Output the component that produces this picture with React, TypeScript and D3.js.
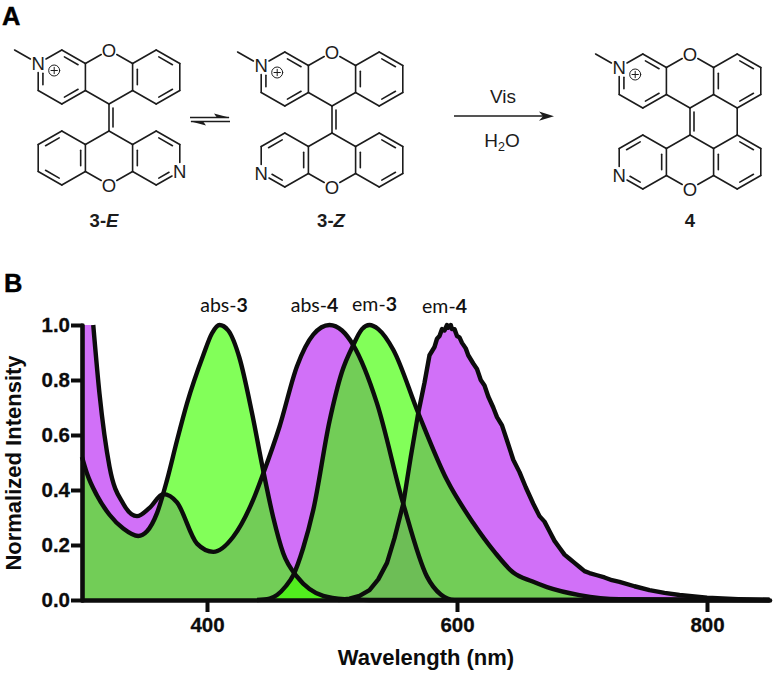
import React, { useRef, useEffect } from 'react';
import * as d3 from 'd3';

// Spectra (wavelength in nm, normalized intensity)
const abs3Wave = [300, 304, 312, 322, 333, 345, 352, 360, 368, 376, 384, 397, 404, 410, 417, 426, 436, 445, 453, 461, 472, 482, 493, 510, 530, 850];
const abs3Value = [0.52, 0.46, 0.38, 0.31, 0.26, 0.233, 0.25, 0.316, 0.436, 0.58, 0.715, 0.89, 0.97, 1.0, 0.98, 0.88, 0.68, 0.47, 0.3, 0.17, 0.085, 0.04, 0.015, 0.003, 0, 0];

const abs4Wave = [300, 309, 314, 322, 333, 344, 354, 365, 376, 392, 405, 421, 437, 445, 458, 472, 485, 498, 508, 517, 536, 557, 576, 587, 598, 850];
const abs4Value = [1.0, 1.0, 0.75, 0.485, 0.35, 0.305, 0.335, 0.385, 0.355, 0.205, 0.175, 0.23, 0.365, 0.46, 0.63, 0.85, 0.965, 1.0, 0.98, 0.927, 0.715, 0.35, 0.085, 0.02, 0, 0];

const em3Wave = [440, 450, 456, 463, 469, 477, 485, 498, 508, 517, 524, 530, 537, 549, 569, 592, 613, 630, 645, 660, 672, 698, 730, 850];
const em3Value = [0, 0.005, 0.018, 0.05, 0.09, 0.19, 0.327, 0.65, 0.83, 0.927, 0.985, 1.0, 0.985, 0.91, 0.68, 0.436, 0.28, 0.175, 0.1, 0.068, 0.047, 0.018, 0.003, 0];

const em4Wave = [505, 514, 522, 530, 537, 544, 550, 557, 563, 569, 574, 578, 582, 584, 586, 588, 590, 592, 593, 595, 596, 598, 600, 602, 604, 607, 609, 613, 616, 619, 622, 625, 629, 632, 636, 640, 645, 650, 655, 661, 666, 670, 674, 678, 682, 686, 690, 694, 698, 702, 706, 712, 718, 724, 730, 742, 754, 766, 778, 800, 825, 850];
const em4Value = [0, 0.005, 0.015, 0.036, 0.075, 0.135, 0.225, 0.35, 0.52, 0.68, 0.79, 0.89, 0.92, 0.95, 0.96, 0.985, 0.98, 1.0, 0.99, 1.0, 0.985, 0.985, 0.96, 0.955, 0.935, 0.915, 0.89, 0.86, 0.84, 0.8, 0.78, 0.74, 0.7, 0.665, 0.635, 0.58, 0.51, 0.465, 0.41, 0.35, 0.305, 0.285, 0.25, 0.215, 0.19, 0.165, 0.15, 0.135, 0.12, 0.105, 0.098, 0.09, 0.082, 0.072, 0.066, 0.05, 0.036, 0.026, 0.018, 0.008, 0.003, 0];

const xTicks = [400, 600, 800];
const yTicks = [0, 0.2, 0.4, 0.6, 0.8, 1.0];

const curveLabels = [
  { base: 'abs-', num: '3', x: 224, y: 312 },
  { base: 'abs-', num: '4', x: 314.5, y: 312 },
  { base: 'em-', num: '3', x: 374.5, y: 311 },
  { base: 'em-', num: '4', x: 444.5, y: 313 },
];

// Molecules: rings on a hexagon lattice, [column, row, edges that carry an inner double bond]
const upperRings = [[-2, 2, [0, 2, 4]], [0, 2, []], [2, 2, [0, 2, 4]]];
const lowerRings = [[-2, 8, [1, 3, 5]], [0, 8, []], [2, 8, [0, 2, 4]]];

const molecules = [
  { ox: 109, oy: 50, name: ['3-', 'E'], labelX: 104, nitrogen: [3, 9], fused: false },
  { ox: 332, oy: 52, name: ['3-', 'Z'], labelX: 331, nitrogen: [-3, 9], fused: false },
  { ox: 690, oy: 54, name: ['4', ''], labelX: 690, nitrogen: [-3, 9], fused: true },
];

const SANS = '"Liberation Sans", Arial, sans-serif';

function App() {
  const svgRef = useRef(null);

  useEffect(() => {
    const svg = d3.select(svgRef.current);
    svg.selectAll('*').remove();

    const xScale = d3.scaleLinear().domain([300, 850]).range([82, 769.5]);
    const yScale = d3.scaleLinear().domain([0, 1]).range([600, 325]);

    // --- Panel letters ---
    svg.append('text').attr('x', 2).attr('y', 25).attr('font-family', SANS).attr('font-weight', 'bold').attr('font-size', 25.5).attr('stroke', '#000').attr('stroke-width', 0.4).text('A');
    svg.append('text').attr('x', 4).attr('y', 292).attr('font-family', SANS).attr('font-weight', 'bold').attr('font-size', 25.5).attr('stroke', '#000').attr('stroke-width', 0.4).text('B');

    // --- Molecules ---
    const inkColor = '#1c1c1c';
    const chem = svg.append('g').attr('stroke-linecap', 'round');

    molecules.forEach(mol => {
      const lat = (c, r) => [mol.ox + c * 23.6, mol.oy + r * 13.5];
      const labelled = new Set(['0,0', '0,10', '-3,1', mol.nitrogen.join(',')]);
      const seen = new Set();

      const drawSeg = (a, b, ta, tb, width = 1.6) => {
        const dx = b[0] - a[0];
        const dy = b[1] - a[1];
        const len = Math.hypot(dx, dy);
        chem.append('line')
          .attr('x1', a[0] + (dx / len) * ta)
          .attr('y1', a[1] + (dy / len) * ta)
          .attr('x2', b[0] - (dx / len) * tb)
          .attr('y2', b[1] - (dy / len) * tb)
          .attr('stroke', inkColor)
          .attr('stroke-width', width);
      };

      const drawRing = ([cc, cr, doubles]) => {
        const verts = [[cc, cr - 2], [cc + 1, cr - 1], [cc + 1, cr + 1], [cc, cr + 2], [cc - 1, cr + 1], [cc - 1, cr - 1]];
        const center = lat(cc, cr);
        verts.forEach((v, i) => {
          const w = verts[(i + 1) % 6];
          const k1 = v.join(',');
          const k2 = w.join(',');
          const a = lat(v[0], v[1]);
          const b = lat(w[0], w[1]);
          const ta = labelled.has(k1) ? 9 : 0;
          const tb = labelled.has(k2) ? 9 : 0;
          const key = [k1, k2].sort().join('|');
          if (!seen.has(key)) {
            seen.add(key);
            drawSeg(a, b, ta, tb);
          }
          if (doubles.includes(i)) {
            // inner line, pulled toward the ring center
            const mix = 0.8;
            const pa = [center[0] + (a[0] - center[0]) * mix, center[1] + (a[1] - center[1]) * mix];
            const pb = [center[0] + (b[0] - center[0]) * mix, center[1] + (b[1] - center[1]) * mix];
            drawSeg(pa, pb, Math.max(ta - 2, 3), Math.max(tb - 2, 3));
          }
        });
      };

      upperRings.forEach(drawRing);
      lowerRings.forEach(drawRing);

      // central C=C
      const c1 = lat(0, 4);
      const c2 = lat(0, 6);
      drawSeg([c1[0], c1[1]], [c2[0], c2[1]], 0, 0);
      drawSeg([c1[0] + 4, c1[1] + 4], [c2[0] + 4, c2[1] - 4], 0, 0);

      // methyl on N+
      drawSeg(lat(-3, 1), lat(-4, 0), 9, 0);
      if (mol.fused) drawSeg(lat(2, 4), lat(2, 6), 0, 0);

      const atom = (txt, c, r) => {
        const p = lat(c, r);
        chem.append('text')
          .attr('x', p[0]).attr('y', p[1] + 6.5)
          .attr('text-anchor', 'middle')
          .attr('font-family', SANS).attr('font-size', 18.5)
          .attr('fill', inkColor).text(txt);
      };
      atom('O', 0, 0);
      atom('O', 0, 10);
      atom('N', -3, 1);
      atom('N', mol.nitrogen[0], mol.nitrogen[1]);

      // charge marker
      const np = lat(-3, 1);
      chem.append('circle').attr('cx', np[0] + 16).attr('cy', np[1] + 7).attr('r', 5.5)
        .attr('fill', 'none').attr('stroke', inkColor).attr('stroke-width', 1);
      drawSeg([np[0] + 12.8, np[1] + 7], [np[0] + 19.2, np[1] + 7], 0, 0, 1);
      drawSeg([np[0] + 16, np[1] + 3.8], [np[0] + 16, np[1] + 10.2], 0, 0, 1);

      const label = svg.append('text')
        .attr('x', mol.labelX).attr('y', 226.5)
        .attr('text-anchor', 'middle')
        .attr('font-family', SANS).attr('font-weight', 'bold').attr('font-size', 18.5)
        .attr('fill', inkColor);
      label.append('tspan').text(mol.name[0]);
      if (mol.name[1]) label.append('tspan').attr('font-style', 'italic').text(mol.name[1]);
    });

    // --- Equilibrium arrows ---
    const arrows = svg.append('g');
    arrows.append('line').attr('x1', 190).attr('x2', 229).attr('y1', 117.5).attr('y2', 117.5).attr('stroke', inkColor).attr('stroke-width', 1.3);
    arrows.append('path').attr('d', 'M230,117.8 L214,113.5 L217,117.8 Z').attr('fill', inkColor);
    arrows.append('line').attr('x1', 191).attr('x2', 230).attr('y1', 121.5).attr('y2', 121.5).attr('stroke', inkColor).attr('stroke-width', 1.3);
    arrows.append('path').attr('d', 'M190,121.2 L206,125.5 L203,121.2 Z').attr('fill', inkColor);

    // --- Reaction arrow ---
    arrows.append('line').attr('x1', 454).attr('x2', 545).attr('y1', 116).attr('y2', 116).attr('stroke', inkColor).attr('stroke-width', 1.3);
    arrows.append('path').attr('d', 'M554,116.2 L539,111.5 L543,116.2 L539,120.8 Z').attr('fill', inkColor);
    svg.append('text').attr('x', 503).attr('y', 103).attr('text-anchor', 'middle').attr('font-family', SANS).attr('font-size', 19).attr('fill', inkColor).text('Vis');
    const h2o = svg.append('text').attr('x', 502).attr('y', 146.5).attr('text-anchor', 'middle').attr('font-family', SANS).attr('font-size', 19).attr('fill', inkColor);
    h2o.append('tspan').text('H');
    h2o.append('tspan').attr('font-size', 12.5).attr('dy', 4).text('2');
    h2o.append('tspan').attr('dy', -4).text('O');

    // --- Spectra ---
    const toPoints = (wave, value) => wave.map((w, i) => [w, value[i]]);
    const abs3 = toPoints(abs3Wave, abs3Value);
    const abs4 = toPoints(abs4Wave, abs4Value);
    const em3 = toPoints(em3Wave, em3Value);
    const em4 = toPoints(em4Wave, em4Value);

    const area = curve => d3.area().x(d => xScale(d[0])).y0(yScale(0)).y1(d => yScale(d[1])).curve(curve);
    const line = curve => d3.line().x(d => xScale(d[0])).y(d => yScale(d[1])).curve(curve);

    const smooth = d3.curveMonotoneX;
    const jagged = d3.curveLinear;

    // Purple below, green above; the overlaps come from the opacity
    svg.append('path').attr('d', area(smooth)(abs4)).attr('fill', '#bd33f5').attr('fill-opacity', 0.7);
    svg.append('path').attr('d', area(jagged)(em4)).attr('fill', '#bd33f5').attr('fill-opacity', 0.7);
    svg.append('path').attr('d', area(smooth)(abs3)).attr('fill', '#3fff00').attr('fill-opacity', 0.65);
    svg.append('path').attr('d', area(smooth)(em3)).attr('fill', '#3fff00').attr('fill-opacity', 0.65);

    const stroke = (d, curve) => svg.append('path')
      .attr('d', line(curve)(d))
      .attr('fill', 'none')
      .attr('stroke', '#0c0c0c')
      .attr('stroke-width', 4.4)
      .attr('stroke-linejoin', 'round');

    stroke(abs3, smooth);
    stroke(abs4.slice(1), smooth); // the trace only enters the frame at 309 nm
    stroke(em3, smooth);
    stroke(em4, jagged);

    // --- Axes ---
    const xAxis = svg.append('g')
      .attr('transform', `translate(0,${yScale(0)})`)
      .call(d3.axisBottom(xScale).tickValues(xTicks).tickFormat(d3.format('d')).tickSizeInner(12).tickSizeOuter(0).tickPadding(5));
    const yAxis = svg.append('g')
      .attr('transform', `translate(${xScale(300)},0)`)
      .call(d3.axisLeft(yScale).tickValues(yTicks).tickFormat(d3.format('.1f')).tickSizeInner(11).tickSizeOuter(0).tickPadding(1));

    [xAxis, yAxis].forEach(ax => {
      ax.selectAll('.domain').attr('stroke', '#0c0c0c').attr('stroke-width', 4.6).attr('stroke-linecap', 'round');
      ax.selectAll('.tick line').attr('stroke', '#0c0c0c').attr('stroke-width', 4);
      ax.selectAll('.tick text')
        .attr('fill', '#0c0c0c')
        .attr('font-family', SANS)
        .attr('font-weight', 'bold')
        .attr('font-size', 20.5)
        .attr('stroke', '#0c0c0c')
        .attr('stroke-width', 0.3);
    });

    // --- Axis titles ---
    svg.append('text')
      .attr('x', 426).attr('y', 665)
      .attr('text-anchor', 'middle')
      .attr('font-family', SANS).attr('font-weight', 'bold').attr('font-size', 22)
      .attr('fill', '#0c0c0c')
      .text('Wavelength (nm)');
    svg.append('text')
      .attr('transform', 'translate(21,463) rotate(-90)')
      .attr('text-anchor', 'middle')
      .attr('font-family', SANS).attr('font-weight', 'bold').attr('font-size', 22)
      .attr('fill', '#0c0c0c')
      .text('Normalized Intensity');

    // --- Curve labels ---
    curveLabels.forEach(l => {
      const t = svg.append('text')
        .attr('x', l.x).attr('y', l.y)
        .attr('text-anchor', 'middle')
        .attr('font-family', 'Lato, sans-serif').attr('font-size', 19.5)
        .attr('fill', '#111');
      t.append('tspan').text(l.base);
      t.append('tspan').attr('font-weight', 'bold').text(l.num);
    });
  }, []);

  return (
    <svg
      ref={svgRef}
      width={774}
      height={675}
      style={{ position: 'absolute', left: 0, top: 0, background: '#fff' }}
    />
  );
}

export default App;
